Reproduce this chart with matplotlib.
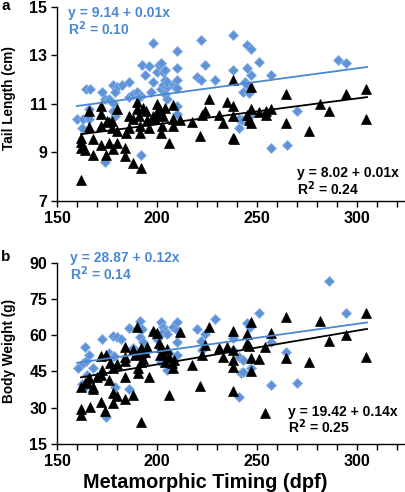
import matplotlib
matplotlib.use("Agg")
import matplotlib.pyplot as plt
import numpy as np

plt.rcParams['font.family'] = ['Liberation Sans', 'DejaVu Sans']
plt.rcParams['font.weight'] = 'bold'

# ---------------- Panel a: Tail length ----------------
a_blue_x = [160, 163, 166, 162.5, 164.7, 166.7, 172.5, 174, 176, 178, 178, 180, 182.5, 179,
            186, 186, 188, 190, 192, 191, 192.5, 196, 194, 198, 197, 198, 200, 201, 202, 203,
            204, 202, 203, 204, 205, 205, 204, 205, 208, 209, 210, 210, 210, 210, 210, 210,
            220, 222, 222, 224, 229, 238, 238, 245, 247, 245, 247, 244, 245, 243, 246, 251,
            257, 257, 265, 270, 290.5, 294.7, 240.8, 242.5, 240.8, 245, 246.5, 174, 192, 166,
            179, 178]
a_blue_y = [10.4, 10.4, 10.4, 10.0, 11.6, 11.6, 11.5, 11.2, 11.2, 11.05, 11.8, 11.7, 11.8, 11.5,
            11.9, 11.3, 11.4, 11.5, 11.35, 11.3, 12.6, 12.55, 12.2, 13.5, 11.5, 11.9, 12.3, 12.6,
            12.7, 12.3, 12.4, 11.6, 11.8, 12.0, 11.7, 11.9, 11.4, 11.2, 11.8, 11.7, 13.2, 12.5,
            12.0, 11.65, 10.9, 10.6, 12.1, 12.0, 13.65, 12.6, 12.0, 12.4, 13.85, 13.45, 13.25,
            12.5, 12.2, 11.9, 11.8, 11.5, 11.45, 12.75, 12.2, 9.2, 9.3, 10.7, 12.8, 12.7, 10.4,
            10.35, 10.0, 10.3, 10.5, 8.6, 8.9, 10.8, 10.5, 10.7]
a_black_x = [162, 162, 162, 162, 164, 166, 166, 168, 168, 172, 172, 172, 172, 174.7, 175, 176,
             176, 177.5, 177.5, 178, 180, 180, 180, 184, 184, 184.7, 186, 186, 188, 188, 190,
             190, 191, 191.7, 191.7, 192, 193, 194.7, 195, 196, 198, 199, 200, 200, 201, 201.7,
             203, 204, 202.5, 202, 208, 208, 208, 206, 211.7, 217.5, 221.7, 222.5, 224, 226,
             231, 233, 235, 238, 238, 238, 238, 238.5, 245, 246, 247, 247, 247, 251, 254.5,
             254.5, 257, 264.7, 264.7, 275.8, 281.7, 285.8, 294.7, 304.7, 304.7]
a_black_y = [7.85, 9.6, 9.45, 9.2, 9.1, 10.7, 10.05, 8.9, 9.55, 10.9, 10.6, 10.1, 9.3, 8.9, 10.3,
             10.25, 9.4, 10.0, 10.3, 9.15, 10.8, 9.4, 9.9, 9.2, 8.85, 9.8, 10.5, 10.0, 10.4, 8.55,
             11.1, 10.8, 10.5, 10.1, 9.8, 8.35, 10.85, 10.7, 10.35, 10.0, 10.5, 10.4, 10.55, 11.0,
             10.85, 10.75, 10.5, 10.85, 10.1, 9.8, 10.95, 10.4, 10.1, 9.4, 10.35, 10.25, 9.7,
             10.55, 10.7, 11.2, 10.55, 10.2, 11.1, 12.0, 10.9, 10.5, 9.6, 9.55, 10.55, 10.35,
             11.7, 10.8, 10.2, 10.65, 10.55, 10.7, 10.8, 11.4, 10.2, 9.9, 11.0, 10.7, 11.4, 11.6,
             10.4]
a_fit_blue = (9.14, 0.0111, 160, 305)   # intercept, slope, x start, x end
a_fit_black = (8.02, 0.0107, 162, 305)
a_eq_blue = ["y = 9.14 + 0.01x", "R$^{\\mathbf{2}}$ = 0.10"]
a_eq_black = ["y = 8.02 + 0.01x", "R$^{\\mathbf{2}}$ = 0.24"]

# ---------------- Panel b: Body weight ----------------
b_blue_x = [160.3, 164, 163, 164.7, 166, 165, 162.5, 164, 168, 172.5, 174.7, 176, 177.5, 178,
            180, 182, 178.7, 179, 186, 186, 188, 190, 191.7, 193, 194, 191.7, 192.5, 198.3,
            200, 201, 202, 203, 204, 202.5, 205, 206, 205, 204.7, 202, 208, 210, 210, 210,
            210, 220, 222, 222.5, 224, 229, 238, 238, 240.8, 242, 241, 243, 243, 245, 246.3,
            247, 251, 257, 257, 264.7, 270, 285.8, 294.7]
b_blue_y = [46.6, 55.3, 48.6, 49.5, 51.8, 43.5, 39.8, 38.7, 46.3, 58.4, 26.3, 52.5, 50.8, 59.8,
            59.1, 58.3, 51.5, 38.7, 63.1, 37.7, 54.6, 53.2, 59.4, 57.3, 53.2, 65.9, 62.4, 61.2,
            58.3, 55.3, 65.6, 63.3, 61.9, 61.0, 60.4, 52.5, 45.6, 50.0, 49.0, 63.3, 62.1, 65.6,
            57.3, 51.8, 62.4, 57.7, 53.9, 60.5, 66.7, 59.0, 53.9, 34.6, 44.2, 51.0, 49.7, 44.6,
            64.9, 63.3, 46.3, 69.3, 57.3, 39.4, 53.2, 40.4, 82.4, 69.3]
b_black_x = [162, 162, 162, 164, 165, 166.3, 166, 168, 168, 170, 172, 172.5, 172, 172, 174,
             174.7, 176, 176.3, 178, 178, 178, 180, 180, 184, 184, 184, 184, 184, 188, 188, 189,
             190, 190.3, 190.3, 192, 192, 192, 192, 193, 194, 195, 196, 198, 200, 201, 202, 203,
             204, 205, 206, 201.7, 206, 207.5, 208, 208.3, 211.7, 217.5, 221.7, 222.5, 224, 226,
             231, 233, 235, 238, 238, 238, 238, 238, 245, 245, 246, 247, 247, 247, 251, 254.2,
             254.2, 257, 264.7, 264.7, 275.8, 281.7, 285.8, 294.7, 304.7, 304.7]
b_black_y = [27.0, 29.3, 38.7, 40.1, 40.8, 30.4, 42.2, 38.7, 37.6, 42.8, 51.4, 45.6, 43.5, 32.5,
             28.8, 51.8, 41.5, 48.4, 46.3, 36.0, 31.8, 34.8, 48.1, 55.3, 51.1, 42.6, 33.5, 49.5,
             35.3, 53.9, 51.8, 63.2, 46.3, 44.5, 52.5, 54.6, 49.1, 24.2, 50.0, 53.2, 55.3, 42.8,
             61.9, 60.8, 56.6, 55.3, 52.5, 49.0, 54.1, 50.8, 51.8, 35.1, 48.6, 46.3, 49.7, 61.5,
             47.7, 39.0, 51.8, 56.0, 63.3, 54.6, 50.8, 55.3, 61.9, 53.9, 49.7, 47.0, 37.1, 60.5,
             56.6, 55.5, 65.6, 50.7, 45.3, 50.0, 55.3, 27.7, 60.8, 67.7, 50.7, 49.1, 66.0, 57.6,
             60.1, 69.3, 51.1]
b_fit_blue = (30.2, 0.115, 160, 305)
b_fit_black = (19.9, 0.14, 162, 305)
b_eq_blue = ["y = 28.87 + 0.12x", "R$^{\\mathbf{2}}$ = 0.14"]
b_eq_black = ["y = 19.42 + 0.14x", "R$^{\\mathbf{2}}$ = 0.25"]

x_major = [150, 200, 250, 300]
a_yticks = [7, 9, 11, 13, 15]
b_yticks = [15, 30, 45, 60, 75, 90]

BLUE = '#5f93d8'
BLUE_EDGE = '#8ab2e6'
LINE_BLUE = '#4a88d0'

W, H = 405, 492
fig = plt.figure(figsize=(W / 100, H / 100), dpi=100)


def px_axes(x0, y0, x1, y1):
    return fig.add_axes([x0 / W, 1 - y1 / H, (x1 - x0) / W, (y1 - y0) / H])


def style(ax, yticks, ylim):
    ax.set_xlim(150, 324)
    ax.set_ylim(*ylim)
    ax.set_xticks(x_major)
    ax.set_xticks(np.arange(160, 330, 10), minor=True)
    ax.set_yticks(yticks)
    for s in ['top', 'right']:
        ax.spines[s].set_visible(False)
    for s in ['left', 'bottom']:
        ax.spines[s].set_linewidth(1.0)
    ax.tick_params(axis='both', which='major', direction='out', length=4, width=1,
                   labelsize=11.5, pad=3)
    ax.tick_params(axis='x', which='minor', direction='out', length=4, width=1)
    for lab in ax.get_xticklabels() + ax.get_yticklabels():
        lab.set_fontweight('bold')


def draw(ax, bx, by, kx, ky, fb, fk):
    ax.plot(bx, by, linestyle='none', marker='D', ms=5.4, mfc=BLUE, mec=BLUE_EDGE, mew=0.6,
            zorder=2, clip_on=False)
    ax.plot(kx, ky, linestyle='none', marker='^', ms=7.4, mfc='black', mec='black', mew=0.5,
            zorder=3, clip_on=False)
    for (b0, b1, xs, xe), col in [(fb, LINE_BLUE), (fk, 'black')]:
        xx = np.array([xs, xe])
        ax.plot(xx, b0 + b1 * xx, color=col, lw=1.3, zorder=4)


# Panel a
axa = px_axes(57, 7, 405, 201)
draw(axa, a_blue_x, a_blue_y, a_black_x, a_black_y, a_fit_blue, a_fit_black)
style(axa, a_yticks, (7, 15))

# Panel b
axb = px_axes(57, 262.7, 405, 444)
draw(axb, b_blue_x, b_blue_y, b_black_x, b_black_y, b_fit_blue, b_fit_black)
style(axb, b_yticks, (15, 90))


def ftext(x, y, s, size=10, **kw):
    fig.text(x / W, 1 - y / H, s, fontsize=size, fontweight='bold', va='center', **kw)


ftext(9, 98, 'Tail Length (cm)', size=9.8, rotation=90, ha='center', color='black')
ftext(9, 351, 'Body Weight (g)', size=9.8, rotation=90, ha='center', color='black')

ftext(68, 13, a_eq_blue[0], color=LINE_BLUE)
ftext(68, 29, a_eq_blue[1], color=LINE_BLUE)
ftext(297, 173, a_eq_black[0], color='black')
ftext(297, 189, a_eq_black[1], color='black')

ftext(70, 258, b_eq_blue[0], color=LINE_BLUE)
ftext(70, 274, b_eq_blue[1], color=LINE_BLUE)
ftext(288, 412, b_eq_black[0], color='black')
ftext(288, 427, b_eq_black[1], color='black')

ftext(1, 6, 'a', size=11, color='black')
ftext(1, 257, 'b', size=11, color='black')

fig.text(205 / W, 1 - 482 / H, 'Metamorphic Timing (dpf)', fontsize=14.3, fontweight='bold',
         ha='center', va='center')

fig.savefig('out.png', dpi=100)
